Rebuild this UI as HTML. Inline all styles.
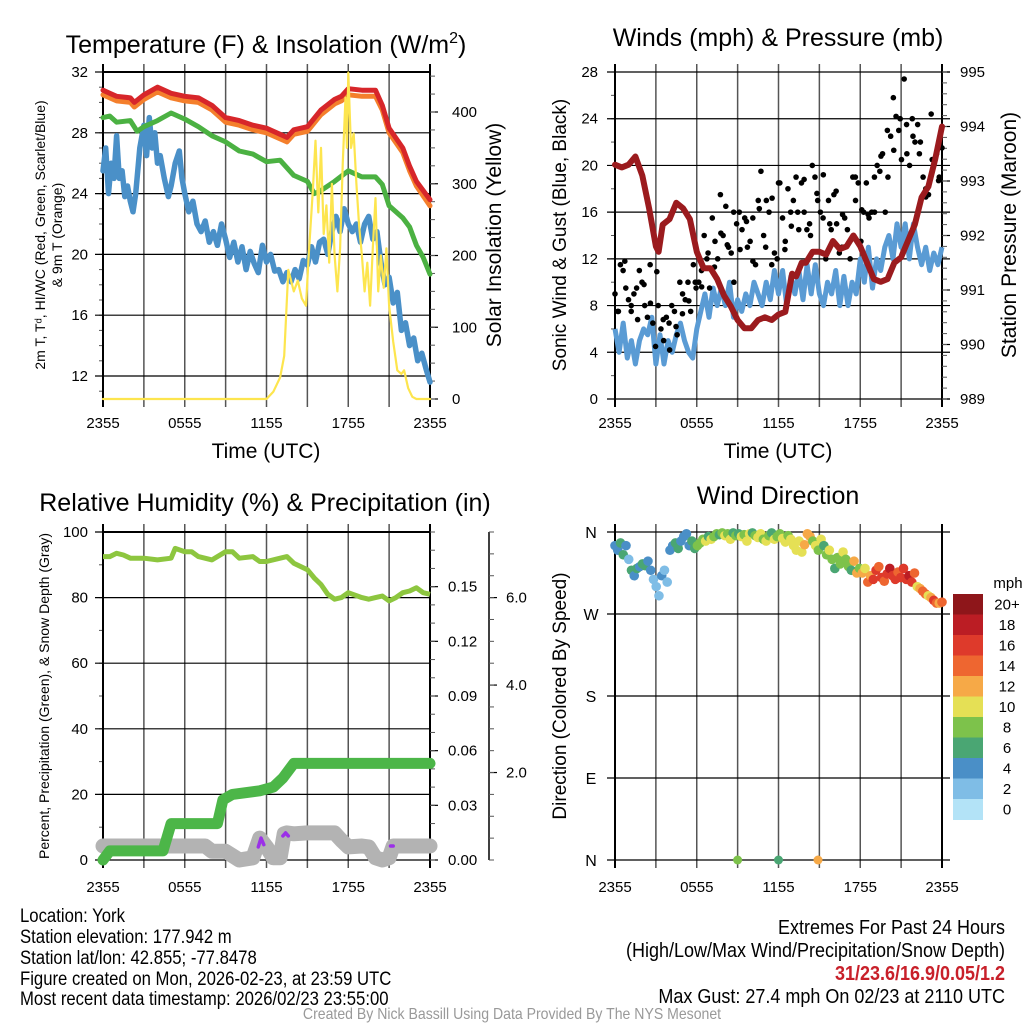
<!DOCTYPE html>
<html><head><meta charset="utf-8">
<style>
html,body{margin:0;padding:0;background:#fff;}
svg{display:block;font-family:"Liberation Sans",sans-serif;}
</style></head>
<body>
<svg id="c" width="1024" height="1024" viewBox="0 0 1024 1024" xmlns="http://www.w3.org/2000/svg">
<rect width="1024" height="1024" fill="#fff"/>
<g id="g1"></g>
<g id="g2"></g>
<g id="g3"></g>
<g id="g4"></g>
<g fill="#000">
<g transform="translate(20,0) scale(0.88,1)" font-size="19">
<text x="0" y="922">Location: York</text>
<text x="0" y="943">Station elevation: 177.942 m</text>
<text x="0" y="964">Station lat/lon: 42.855; -77.8478</text>
<text x="0" y="985">Figure created on Mon, 2026-02-23, at 23:59 UTC</text>
<text x="0" y="1005">Most recent data timestamp: 2026/02/23 23:55:00</text>
</g>
<g transform="translate(1005,0) scale(0.9,1)" text-anchor="end" font-size="20">
<text x="0" y="934">Extremes For Past 24 Hours</text>
<text x="0" y="957">(High/Low/Max Wind/Precipitation/Snow Depth)</text>
<text x="0" y="980" fill="#c8202a" font-weight="bold">31/23.6/16.9/0.05/1.2</text>
<text x="0" y="1003">Max Gust: 27.4 mph On 02/23 at 2110 UTC</text>
</g>
<g transform="translate(512,0) scale(0.88,1)" text-anchor="middle">
<text x="0" y="1019" font-size="16" fill="#999">Created By Nick Bassill Using Data Provided By The NYS Mesonet</text>
</g>
</g>
</svg>
<script>
// ---------- DATA ----------
const xTickLabels = ["2355","0555","1155","1755","2355"];
// Panel 1
const redT = [0,0.5,1,2,2.3,3,4,5,6,7,8,9,10,11,12,13,13.5,14,15,16,17,17.5,18,19,20,20.5,21,22,22.5,23,24];
const redV = [30.8,30.6,30.4,30.3,30.0,30.5,31.0,30.6,30.4,30.3,29.8,29.0,28.8,28.5,28.3,27.9,27.7,28.2,28.4,29.5,30.2,30.4,30.9,30.8,30.8,29.8,28.3,27.0,25.8,24.8,23.6];
const orangeV = [30.5,30.3,30.1,30.0,29.7,30.2,30.7,30.3,30.1,30.0,29.5,28.7,28.5,28.2,28.0,27.6,27.4,27.9,28.1,29.2,29.9,30.1,30.5,30.4,30.4,29.5,28.0,26.7,25.5,24.5,23.2];
const greenT = [0,0.5,1,2,2.5,3,4,5,6,7,8,9,10,11,12,13,14,15,15.5,16,17,18,19,20,20.5,21,22,22.5,23,23.5,24];
const greenV = [29.0,29.1,28.7,28.8,28.1,28.4,28.8,29.3,28.9,28.4,27.8,27.4,26.8,26.6,26.1,26.2,25.2,24.8,24.0,24.2,24.8,25.5,25.1,25.1,24.6,23.2,22.4,21.8,20.6,19.8,18.7];
const dewT = [0,0.2,0.4,0.6,0.8,1.0,1.2,1.4,1.6,1.8,2.0,2.2,2.4,2.7,3.0,3.2,3.4,3.6,3.8,4.0,4.2,4.5,4.8,5.0,5.3,5.6,5.8,6.0,6.3,6.6,6.9,7.2,7.5,7.8,8.1,8.4,8.7,9.0,9.3,9.6,9.9,10.2,10.5,10.8,11.1,11.4,11.7,12.0,12.3,12.6,12.9,13.2,13.5,13.8,14.1,14.4,14.7,15.0,15.3,15.6,15.9,16.2,16.5,16.8,17.1,17.4,17.7,18.0,18.3,18.6,18.9,19.2,19.5,19.8,20.1,20.4,20.7,21.0,21.3,21.6,21.9,22.2,22.5,22.8,23.1,23.4,23.7,24.0];
const dewV = [25.5,27.0,24.0,26.0,25.0,27.8,25.0,25.5,23.8,24.5,23.5,22.8,24.0,27.0,28.5,26.5,29.0,27.0,28.0,26.0,26.5,25.0,23.8,24.5,26.0,26.8,25.0,24.0,22.8,23.5,22.0,21.5,22.2,20.8,21.5,20.6,22.0,21.0,19.8,20.8,19.5,20.5,19.0,20.2,19.4,18.8,20.6,19.5,20.0,18.9,19.0,18.2,18.8,18.2,19.0,18.4,19.6,19.3,20.5,19.5,20.8,21.0,20.0,21.5,22.5,21.5,23.0,22.0,21.5,22.0,20.8,22.0,22.5,21.0,21.5,19.5,18.0,18.5,16.8,17.5,15.0,15.5,14.0,14.5,13.0,13.5,12.5,11.6];
const solT = [0,12,12.5,13,13.3,13.6,14.0,14.3,14.6,14.9,15.1,15.4,15.6,15.8,16.0,16.2,16.4,16.6,16.8,17.0,17.2,17.4,17.6,17.8,17.9,18.0,18.2,18.4,18.6,18.8,19.0,19.2,19.4,19.6,19.8,20.0,20.2,20.4,20.6,20.8,21.0,21.3,21.6,21.9,22.1,22.4,22.7,23,24];
const solV = [0,0,10,30,60,180,150,165,140,130,200,290,360,260,350,230,270,190,300,200,150,210,330,420,350,455,350,370,300,240,200,150,190,130,210,280,150,200,155,210,130,80,40,35,40,15,3,0,0];
// Panel 2
const windT = [0,0.3,0.6,0.9,1.2,1.5,1.8,2.1,2.4,2.7,3.0,3.3,3.6,3.9,4.2,4.5,4.8,5.1,5.4,5.7,6.0,6.3,6.6,6.9,7.2,7.5,7.8,8.1,8.4,8.7,9.0,9.3,9.6,9.9,10.2,10.5,10.8,11.1,11.4,11.7,12.0,12.3,12.6,12.9,13.2,13.5,13.8,14.1,14.4,14.7,15.0,15.3,15.6,15.9,16.2,16.5,16.8,17.1,17.4,17.7,18.0,18.3,18.6,18.9,19.2,19.5,19.8,20.1,20.4,20.7,21.0,21.3,21.6,21.9,22.2,22.5,22.8,23.1,23.4,23.7,24.0];
const windV = [6,4,6.5,3.5,5,3,5,6,5.5,7,3,5.5,3,5,4,5.5,6.5,5,4,3.5,6,7.5,9,7,9.5,8,9.5,8,10,7,8.5,7.5,9,8,10,9,8,10,8.5,11,9,11,8,10.5,9,11,8.5,11.5,9,11.5,9,8,10,9,11,8,10.5,8,10,9,12,10,13,9.5,12,11,13,14,12,15,13,15,12,15,13,11.5,13,11,12.5,11.5,13];
const gustV = [9,7.5,11.5,11,9.5,8.5,7.5,9,9.5,11,10,8,7,11.5,6.5,4.5,8,6,5,7,6.5,8,7.5,5.5,10,9,8.5,10,7.5,11.5,9.5,10,11,14,12,9.5,15.5,13.5,12,17.5,14,16.5,13,12.5,10,15,16,14.5,15.5,13,13.5,15.5,11.5,17,19.5,14,17,16,11.5,12.5,12,18.5,15.5,13.5,18,16,17,19,14.5,18.5,16,14.5,15,20,19,17,16,15.5,12,17,14.5,17.5,15,12.5,13,15.5,14.5,12,19,17,18.5,13.5,16,18.5,15.5,16,19,20,19.5,21,16,19,22.5,25.8,24.2,23,20.5,27.4,21,20,24,22,23.5,22,19,18,17.5,24.4,20,21,19,21.5];
const gustV2 = [7.5,11.8,8,6.8,9.8,8.2,10.9,6.8,4.2,6.2,7.3,8.4,10,9.6,12.5,11.3,14.2,13.2,16,12.8,15.2,11.8,16.3,13,17.2,18.5,12.8,14.8,16,18.8,14,17.6,19.2,15,17.8,15.8,13.4,19,16.2,15.8,16,20.8,23,21.3,24,23.5,22.5,21,17.3,20.5,18.7];
const presT = [0,0.5,1,1.5,2,2.5,3,3.2,3.5,4,4.5,5,5.5,6,6.5,7,7.5,8,8.5,9,9.5,10,10.5,11,11.5,12,12.5,13,13.3,13.7,14,14.5,15,15.5,16,16.5,17,17.5,18,18.5,19,19.5,20,20.5,21,21.5,22,22.5,23,23.5,24];
const presV = [993.3,993.25,993.3,993.45,993.1,992.5,991.8,991.7,992.2,992.3,992.6,992.5,992.3,991.7,991.4,991.4,991.2,990.9,990.7,990.45,990.3,990.3,990.45,990.5,990.45,990.55,990.6,991.3,991.25,991.5,991.5,991.7,991.7,991.65,991.9,991.75,991.8,992.0,991.8,991.5,991.2,991.15,991.2,991.5,991.6,991.9,992.2,992.7,992.9,993.4,994.0];
// Panel 3
const rhT = [0,0.5,1,1.5,2,3,4,5,5.3,6,6.5,7,8,9,9.5,10,11,11.5,12,13,13.5,14,15,15.5,16,16.5,17,17.5,18,19,19.5,20,20.5,21,21.5,22,22.5,23,23.5,24];
const rhV = [92.5,92.5,93.5,93,92,92,91.5,92,95,94,94,92.5,91.5,94,94,92,92.5,91,91,92,92.5,90.5,88.5,86,84,81,79.5,80,81.5,80,79.5,80,80.5,79,80,81.5,82,83,81.5,81];
const pcpT = [0,0.5,4.4,5.0,8.4,8.8,9.5,11.5,12.5,13.2,14.0,24];
const pcpV = [0,0.005,0.005,0.02,0.02,0.033,0.036,0.038,0.04,0.045,0.053,0.053];
const snowT = [0,7.5,8,9,9.5,10,11,11.5,12,12.5,13,13.3,13.5,14,15,16,17,17.5,18,19,19.5,20,20.5,21,21.3,24];
const snowV = [0.32,0.32,0.2,0.2,0.1,0.0,0.05,0.5,0.3,0.05,0.05,0.6,0.62,0.6,0.62,0.62,0.62,0.45,0.3,0.32,0.3,0.05,0.0,0.05,0.32,0.32];
const rhTicks = [0,20,40,60,80,100];
const pcpTicks = ["0.00","0.03","0.06","0.09","0.12","0.15"];
const snowTicks = ["2.0","4.0","6.0"];
// Panel 4
const dirV = [345,340,348,335,345,330,318,312,320,322,325,323,328,318,308,300,290,312,318,305,340,345,348,342,350,355,358,345,350,342,345,348,352,350,355,352,355,358,357,359,356,358,352,359,356,358,355,357,350,358,359,356,354,358,352,350,356,359,352,355,358,353,349,356,352,345,340,350,338,346,358,355,350,345,340,352,345,335,340,330,320,332,325,338,330,322,318,328,315,320,315,320,305,312,308,318,322,310,306,314,320,312,308,316,310,320,308,312,305,315,300,298,295,292,290,288,285,282,282,283];
const dirSpd = [5,4,6,6,4,2,6,4,6,5,6,6,4,4,2,2,2,4,3,2,4,5,6,6,4,4,5,4,6,6,8,8,8,10,6,10,8,8,6,8,10,8,10,7,8,6,10,8,10,10,6,9,10,10,8,10,8,6,10,9,8,10,10,8,10,10,10,10,10,12,12,12,9,10,8,10,6,8,10,9,6,8,8,10,8,8,6,12,12,8,12,10,14,12,16,16,14,16,14,16,18,16,16,14,17,16,16,18,16,14,10,12,14,14,10,12,16,14,12,14];
const calmT = [9,12,14.9];
const calmSpd = [8,7,12];
const speedBins = ["0","2","4","6","8","10","12","14","16","18","20+"];
const speedColors = ["#b3e3f7","#7fbde6","#4a8fc7","#4aa673","#7dc24b","#e5e055","#f6a947","#ee6630","#de3a2b","#bb1d24","#8e161a"];

// ---------- HELPERS ----------
const NS="http://www.w3.org/2000/svg";
function el(parent,tag,attrs,text){const e=document.createElementNS(NS,tag);for(const k in attrs)e.setAttribute(k,attrs[k]);if(text!==undefined)e.textContent=text;parent.appendChild(e);return e;}
function lin(d0,d1,r0,r1){return v=>r0+(v-d0)*(r1-r0)/(d1-d0);}
function pathD(ts,vs,xf,yf){return ts.map((t,i)=>(i?"L":"M")+xf(t).toFixed(1)+","+yf(vs[i]).toFixed(1)).join("");}

function frame(g,L,R,T,B,xf,hLines,yTicksPix,minorPix,opts){
  for(let h=0;h<=24;h+=3){
    const x=xf(h);
    const l=el(g,"line",{x1:x,x2:x,y1:T-8,y2:B+8,stroke:(h===0||h===24)?"#000":"#555","stroke-width":(h===0||h===24)?2:1.5});
    
    
  }
  minorPix.forEach(y=>{el(g,"line",{x1:L-4,x2:L,y1:y,y2:y,stroke:"#555","stroke-width":1});});
  if(opts.topBorder) el(g,"line",{x1:L,x2:R,y1:T,y2:T,stroke:"#000","stroke-width":2});
  el(g,"line",{x1:L,x2:L,y1:T,y2:B,stroke:"#000","stroke-width":2});
  el(g,"line",{x1:R,x2:R,y1:T,y2:B,stroke:"#000","stroke-width":2});
  xTickLabels.forEach((s,i)=>{
    const t=el(g,"text",{x:xf(i*6),y:opts.xLabY,"font-size":15,"text-anchor":"middle"},s);
    
    
  });
}
function rightTicks(g,x,ys,minor,labels,labX,fs){
  ys.forEach((y,i)=>{el(g,"line",{x1:x,x2:x+8,y1:y,y2:y,stroke:"#000","stroke-width":1.2});
    const t=el(g,"text",{x:labX,y:y+5,"font-size":fs||15},labels[i]);
    
    });
  minor.forEach(y=>el(g,"line",{x1:x,x2:x+5,y1:y,y2:y,stroke:"#555","stroke-width":1}));
}
function leftLabels(g,x,ys,labels,fs){
  ys.forEach((y,i)=>{const t=el(g,"text",{x:x,y:y+5,"font-size":fs||15,"text-anchor":"end"},labels[i]);
    
    });
}
function title(g,x,y,s,name){const t=el(g,"text",{x:x,y:y,"font-size":25,"text-anchor":"middle"},s);return t;}
function vtitle(g,x,y,s,fs,name){const t=el(g,"text",{x:x,y:y,"font-size":fs,"text-anchor":"middle",transform:`rotate(-90 ${x} ${y})`},s);return t;}
function range(a,b,s){const r=[];for(let v=a;v<=b+1e-9;v+=s)r.push(v);return r;}

// ---------- PANEL 1 ----------
(function(){
const g=document.getElementById("g1");
const L=103,R=430,T=72,B=399;
const x=lin(0,24,L,R), y=lin(32,12,72,376), ys=lin(0,400,399,112);
frame(g,L,R,T,B,x,[],[],range(11,32,1).map(y),{topBorder:true,xLabY:428});
[28,24,20,16,12].forEach(v=>{el(g,"line",{x1:L-8,x2:R,y1:y(v),y2:y(v),stroke:"#000","stroke-width":1.2});});
el(g,"line",{x1:L-8,x2:L,y1:72,y2:72,stroke:"#000","stroke-width":1.2});
leftLabels(g,88,[32,28,24,20,16,12].map(y),["32","28","24","20","16","12"]);
rightTicks(g,R,[0,100,200,300,400].map(ys),range(0,450,25).map(ys),["0","100","200","300","400"],452);
const add=(d,c,w,n)=>{const p=el(g,"path",{d:d,fill:"none",stroke:c,"stroke-width":w,"stroke-linejoin":"round","stroke-linecap":"round"});};
add(pathD(dewT,dewV,x,y),"#4a90c8",5.5,"dewpoint-line");
add(pathD(greenT,greenV,x,y),"#4bb142",5,"humidex-line");
add(pathD(redT,orangeV,x,y),"#f47f2c",5,"temp-9m-line");
add(pathD(redT,redV,x,y),"#d7262a",5,"temp-2m-line");
add(pathD(solT,solV,x,ys),"#fde54e",2.2,"insolation-line");
const tt=title(g,266,53,"","temp-title");
tt.innerHTML='Temperature (F) &amp; Insolation (W/m<tspan font-size="16" dy="-10">2</tspan><tspan dy="10">)</tspan>';
vtitle(g,45,235,"2m T, T\u1D48, HI/WC (Red, Green, Scarlet/Blue)",14,"y-axis-title");
vtitle(g,62,235,"& 9m T (Orange)",14,"y-axis-title-2");
vtitle(g,501,235,"Solar Insolation (Yellow)",21,"y2-axis-title");
const xt=el(g,"text",{x:266,y:458,"font-size":21,"text-anchor":"middle"},"Time (UTC)");
})();

// ---------- PANEL 2 ----------
(function(){
const g=document.getElementById("g2");
const L=615,R=942,T=72,B=399;
const x=lin(0,24,L,R), y=lin(0,28,399,72), yp=lin(989,995,399,72);
frame(g,L,R,T,B,x,[],[],range(0,28,2).map(y),{topBorder:false,xLabY:428});
[28,24,20,16,12,8,4,0].forEach(v=>{el(g,"line",{x1:L-8,x2:R+8,y1:y(v),y2:y(v),stroke:"#000","stroke-width":1.2});});
leftLabels(g,598,[28,24,20,16,12,8,4,0].map(y),["28","24","20","16","12","8","4","0"]);
rightTicks(g,R,[989,990,991,992,993,994,995].map(yp),range(989,995,0.2).map(yp),["989","990","991","992","993","994","995"],960);
const p1=el(g,"path",{d:pathD(windT,windV,x,y),fill:"none",stroke:"#5a9bd4","stroke-width":5,"stroke-linejoin":"round"});

const n=gustV.length;
gustV.forEach((v,i)=>{const c=el(g,"circle",{cx:x(i*24/(n-1)),cy:y(v),r:2.8,fill:"#000"});
 });
const n2=gustV2.length;
gustV2.forEach((v,i)=>{const c=el(g,"circle",{cx:x(0.25+i*23.5/(n2-1)),cy:y(v),r:2.8,fill:"#000"});
 });
const p2=el(g,"path",{d:pathD(presT,presV,x,yp),fill:"none",stroke:"#9b1b1e","stroke-width":6,"stroke-linejoin":"round","stroke-linecap":"round"});

title(g,778,46,"Winds (mph) & Pressure (mb)","wind-title");
vtitle(g,566,235,"Sonic Wind & Gust (Blue, Black)",19,"y-axis-title");
vtitle(g,1016,235,"Station Pressure (Maroon)",21,"y2-axis-title");
const xt=el(g,"text",{x:778,y:458,"font-size":21,"text-anchor":"middle"},"Time (UTC)");
})();

// ---------- PANEL 3 ----------
(function(){
const g=document.getElementById("g3");
const L=103,R=430,T=532,B=860;
const x=lin(0,24,L,R), y=lin(0,100,860,532), yq=lin(0,0.18,860,532), ysn=lin(0,7.5,860,532);
frame(g,L,R,T,B,x,[],[],range(0,100,10).map(y),{topBorder:true,xLabY:892});
rhTicks.forEach(v=>{el(g,"line",{x1:L-8,x2:R,y1:y(v),y2:y(v),stroke:"#000","stroke-width":1.2});});
leftLabels(g,88,rhTicks.map(y),rhTicks.map(String));
rightTicks(g,R,pcpTicks.map(s=>yq(+s)),range(0,0.18,0.01).map(yq),pcpTicks,448);
el(g,"line",{x1:489,x2:489,y1:532,y2:860,stroke:"#000","stroke-width":1.5});
rightTicks(g,489,snowTicks.map(s=>ysn(+s)),range(0,7.5,0.5).map(ysn),snowTicks,506);
const a=el(g,"path",{d:pathD(snowT,snowV,x,ysn),fill:"none",stroke:"#b3b3b3","stroke-width":15,"stroke-linejoin":"round","stroke-linecap":"round"});

const b=el(g,"path",{d:pathD(pcpT,pcpV,x,yq),fill:"none",stroke:"#4cb648","stroke-width":11,"stroke-linejoin":"round","stroke-linecap":"round"});

const c=el(g,"path",{d:pathD(rhT,rhV,x,y),fill:"none",stroke:"#8dc63f","stroke-width":5,"stroke-linejoin":"round"});

[[11.4,11.6,11.8],[13.2,13.4,13.6],[21.1,21.3]].forEach((ts,k)=>{
  const vs=k===0?[0.3,0.5,0.35]:k===1?[0.55,0.62,0.55]:[0.32,0.32];
  const p=el(g,"path",{d:pathD(ts,vs,x,ysn),fill:"none",stroke:"#9b30e8","stroke-width":3.5,"stroke-linecap":"round","stroke-linejoin":"round"});
  });
title(g,265,511,"Relative Humidity (%) & Precipitation (in)","rh-title");
vtitle(g,49,696,"Percent, Precipitation (Green), & Snow Depth (Gray)",14,"y-axis-title");
})();

// ---------- PANEL 4 ----------
(function(){
const g=document.getElementById("g4");
const L=615,R=942,T=532,B=860;
const x=lin(0,24,L,R), y=lin(0,360,860,532);
frame(g,L,R,T,B,x,[],[],[],{topBorder:false,xLabY:892});
const dl=["N","E","S","W","N"];
[0,90,180,270,360].forEach((v,i)=>{el(g,"line",{x1:L-8,x2:R+8,y1:y(v),y2:y(v),stroke:"#000","stroke-width":1.2});
 const t=el(g,"text",{x:591,y:y(v)+6,"font-size":16,"text-anchor":"middle"},dl[i]);
 });
const col=s=>speedColors[Math.min(10,Math.max(0,Math.floor(s/2)))];
const n=dirV.length;
dirV.forEach((d,i)=>{const c=el(g,"circle",{cx:x(i*24/(n-1)),cy:y(d),r:4.8,fill:col(dirSpd[i])});
 });
calmT.forEach((t,i)=>{const c=el(g,"circle",{cx:x(t),cy:y(0),r:4.5,fill:col(calmSpd[i])});
 });
const top=594,bh=20.5;
speedBins.forEach((s,i)=>{const k=10-i;const yy=top+i*bh;
 const r=el(g,"rect",{x:953,y:yy,width:30,height:bh+0.5,fill:speedColors[k]});
 
 const t=el(g,"text",{x:1007,y:yy+bh/2+5,"font-size":15,"text-anchor":"middle"},speedBins[k]);
 });
const m=el(g,"text",{x:1008,y:588,"font-size":15,"text-anchor":"middle"},"mph");
title(g,778,504,"Wind Direction","direction-title");
vtitle(g,566,696,"Direction (Colored By Speed)",19,"y-axis-title");
})();
</script>
</body></html>
